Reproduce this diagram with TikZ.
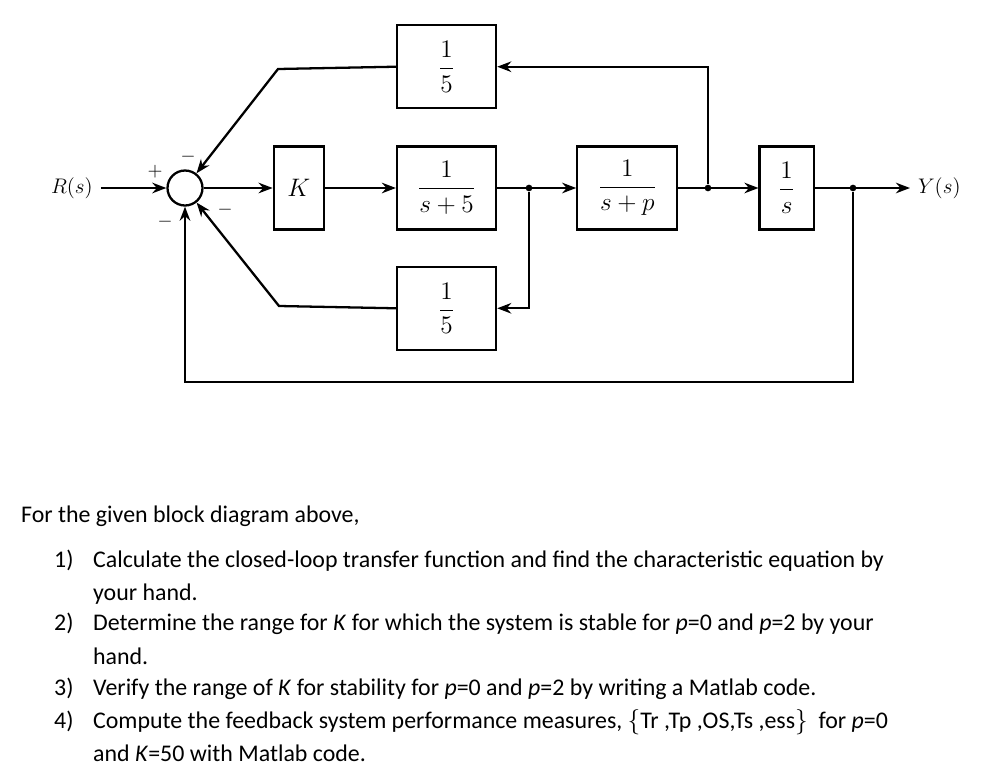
\documentclass[tikz,border=0pt]{standalone}
\usepackage{fontspec}
\newfontfamily\calibri{Carlito}
\usetikzlibrary{positioning,arrows.meta}

\begin{document}
\begin{tikzpicture}[>={Stealth[length=8pt,width=6pt]}, line width=1.3pt,
  block/.style={draw, rectangle, minimum height=1.66cm, inner sep=0pt, font=\fontsize{13.5}{15}\selectfont},
  sumnode/.style={draw, circle, minimum size=0.7cm, inner sep=0pt},
  dot/.style={circle, fill, inner sep=0pt, minimum size=3.8pt},
  sign/.style={font=\fontsize{11}{12}\selectfont, inner sep=0pt},
  lbl/.style={font=\fontsize{13}{15}\selectfont, inner sep=4pt},
  txt/.style={font=\calibri\fontsize{13.6}{16}\selectfont, anchor=base west, inner sep=0pt}]
\useasboundingbox (0,0) rectangle (19.76,-15.58);
\node (sum) [sumnode] at (3.7,-3.76) {};
\node (R) [lbl, left=1.31cm of sum] {$R(s)$};
\node (K) [block, minimum width=1cm, right=1.38cm of sum] {$K$};
\node (G1) [block, minimum width=1.98cm, right=1.42cm of K] {$\displaystyle\frac{1}{s+5}$};
\node (G2) [block, minimum width=2cm, right=1.58cm of G1] {$\displaystyle\frac{1}{s+p}$};
\node (G3) [block, minimum width=1.08cm, right=1.6cm of G2] {$\displaystyle\frac{1}{s}$};
\node (H1) [block, minimum width=1.98cm, above=0.72cm of G1] {$\displaystyle\frac{1}{5}$};
\node (H2) [block, minimum width=1.98cm, below=0.7cm of G1] {$\displaystyle\frac{1}{5}$};
\node (b1) [dot] at (10.58,-3.76) {};
\node (b2) [dot] at (14.16,-3.76) {};
\node (b3) [dot] at (17.06,-3.76) {};
\coordinate (out) at (18.2,-3.76);
\node (Y) [lbl, anchor=west] at (out) {$Y(s)$};
\coordinate (c1) at (5.56,-1.38);
\coordinate (c2) at (5.58,-6.12);
\node (s1) [sign] at (3.1,-3.44) {$+$};
\node (s2) [sign] at (3.76,-3.14) {$-$};
\node (s3) [sign] at (4.5,-4.2) {$-$};
\node (s4) [sign] at (3.3,-4.44) {$-$};
\draw[->] (R) -- (sum);
\draw[->] (sum) -- (K);
\draw[->] (K) -- (G1);
\draw[->] (G1) -- (G2);
\draw[->] (G2) -- (G3);
\draw[->] (G3) -- (out);
\draw[->] (b2) |- (H1.east);
\draw[->] (H1.west) -- (c1) -- (sum);
\draw[->] (b1) |- (H2.east);
\draw[->] (H2.west) -- (c2) -- (sum);
\draw[->] (b3) -- ++(0,-3.88) -| (sum);
\node (head) [txt] at (0.4,-10.44) {For the given block diagram above,};
\node (n1) [txt] at (1.06,-11.34) {1)};
\node (t1a) [txt] at (1.84,-11.34) {Calculate the closed-loop transfer function and find the characteristic equation by};
\node (t1b) [txt] at (1.84,-12.0) {your hand.};
\node (n2) [txt] at (1.06,-12.6) {2)};
\node (t2a) [txt] at (1.84,-12.6) {Determine the range for \textit{K} for which the system is stable for \textit{p}=0 and \textit{p}=2 by your};
\node (t2b) [txt] at (1.84,-13.28) {hand.};
\node (n3) [txt] at (1.06,-13.9) {3)};
\node (t3) [txt] at (1.84,-13.9) {Verify the range of \textit{K} for stability for \textit{p}=0 and \textit{p}=2 by writing a Matlab code.};
\node (n4) [txt] at (1.06,-14.56) {4)};
\node (t4a) [txt] at (1.84,-14.56) {Compute the feedback system performance measures, $\{$Tr ,Tp ,OS,Ts ,ess$\}$\ \ for \textit{p}=0};
\node (t4b) [txt] at (1.84,-15.22) {and \textit{K}=50 with Matlab code.};
\end{tikzpicture}
\end{document}
